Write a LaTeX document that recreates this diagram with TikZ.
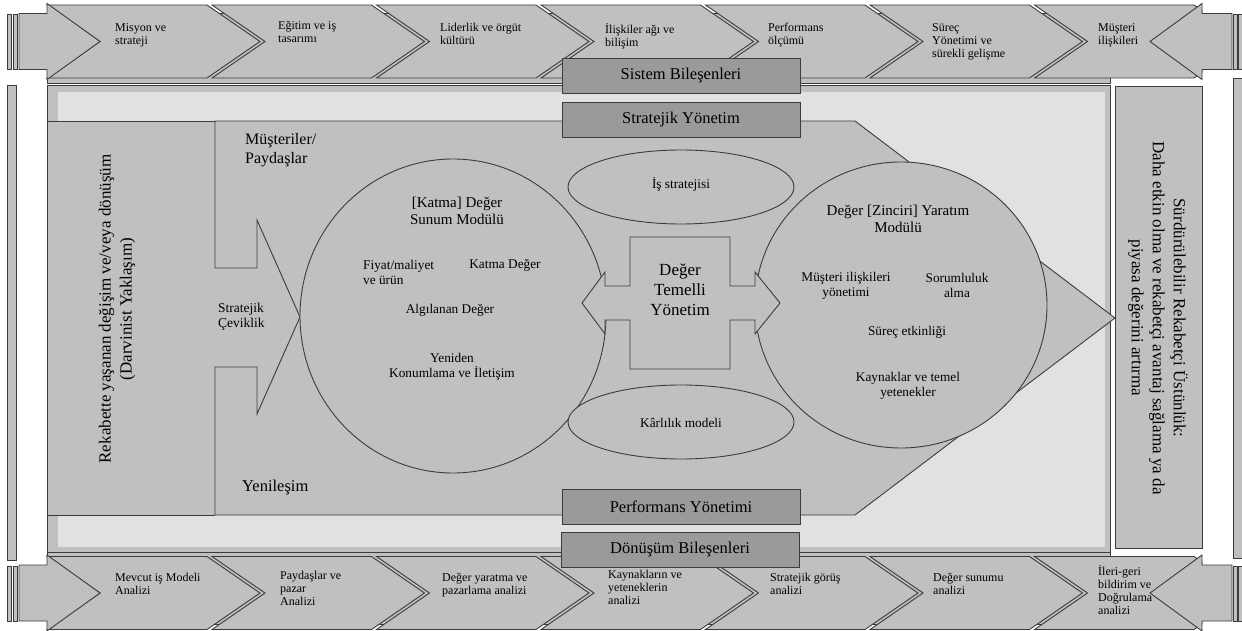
\documentclass[tikz,border=0pt]{standalone}
\usepackage{fontspec}
\setmainfont{Liberation Serif}
\definecolor{gris}{HTML}{C0C0C0}
\definecolor{grisclair}{HTML}{E1E1E1}
\definecolor{grisfonce}{HTML}{9A9A9A}
\definecolor{trait}{HTML}{3C3C3C}

\begin{document}
\begin{tikzpicture}[x=1pt, y=-1pt, line join=miter,
    forme/.style={fill=gris, draw=trait, line width=0.9pt},
    titre/.style={forme, fill=grisfonce, minimum width=238pt, minimum height=35pt, inner sep=0pt, font=\fontsize{16.5}{19}\selectfont},
    petit/.style={align=left, anchor=north west, inner sep=0pt, font=\fontsize{12}{13}\selectfont, execute at begin node=\strut},
    moyen/.style={align=center, inner sep=0pt, font=\fontsize{13.3}{15}\selectfont},
    grand/.style={align=center, inner sep=0pt, font=\fontsize{15}{17}\selectfont},
    vertical/.style={align=center, inner sep=0pt, font=\fontsize{17}{21}\selectfont}]

    \useasboundingbox (0,0) rectangle (1242,631);

    % Fond des bandes et cadre central
    \draw[forme] (47,13) rectangle (1110,83);
    \draw[forme] (47,552) rectangle (1110,624);
    \draw[forme] (47,85) rectangle (1110,552);
    \fill[grisclair] (58,92) rectangle (1105,547);
    \draw[forme] (7,85) rectangle (16,560);
    \draw[forme] (1233,78) rectangle (1242,558);

    % Définition des chevrons (haut et bas)
    \foreach \m in {41.5,593} {
        \foreach \p [count=\i] in {260,424.5,589,753.5,918,1082.5} {
            \pgfmathsetmacro\g{\i==1 ? 47 : \p-212.5}
            \draw[forme] (\g,\m-36.5) -- (\p-53,\m-36.5) -- (\p,\m) -- (\p-53,\m+36.5) -- (\g,\m+36.5) -- (\g+53,\m) -- cycle;
        }
        \draw[forme] (1034.5,\m-36.5) -- (1194,\m-36.5) -- (1202,\m-31) -- (1202,\m+31) -- (1194,\m+36.5) -- (1034.5,\m+36.5) -- (1087.5,\m) -- cycle;
        \draw[forme] (19,\m-28) -- (47,\m-28) -- (47,\m-38) -- (100,\m) -- (47,\m+38) -- (47,\m+28) -- (19,\m+28) -- cycle;
        \draw[forme] (1232,\m-28) -- (1202,\m-28) -- (1202,\m-38) -- (1150,\m) -- (1202,\m+38) -- (1202,\m+28) -- (1232,\m+28) -- cycle;
        \foreach \b in {7,13,1233,1238}
            \draw[forme, line width=0.6pt] (\b,\m-27) rectangle (\b+4,\m+28);
    }

    \foreach \x/\y/\t [count=\i] in {115/23/{Misyon ve\\strateji}, 278/21/{Eğitim ve iş\\tasarımı},
        440/23/{Liderlik ve örgüt\\kültürü}, 605/23/{İlişkiler ağı ve\\bilişim}, 768/23/{Performans\\ölçümü},
        932/23/{Süreç\\Yönetimi ve\\sürekli gelişme}, 1098/23/{Müşteri\\ilişkileri}}
        \node[petit] (h\i) at (\x,\y) {\t};

    \foreach \x/\y/\t [count=\i] in {115/573/{Mevcut iş Modeli\\Analizi}, 280/571/{Paydaşlar ve\\pazar\\Analizi},
        442/573/{Değer yaratma ve\\pazarlama analizi}, 608/570/{Kaynakların ve\\yeteneklerin\\analizi},
        770/573/{Stratejik görüş\\analizi}, 933/573/{Değer sunumu\\analizi},
        1098/565/{İleri-geri\\bildirim ve\\Doğrulama\\analizi}}
        \node[petit] (b\i) at (\x,\y) {\t};

    % Bloc de gauche et grande flèche
    \draw[forme] (215,121) -- (47,121) -- (47,515) -- (215,515);
    \fill[gris] (215,268) -- (257,268) -- (257,220) -- (300,317) -- (257,414) -- (257,367) -- (215,367) -- cycle;
    \draw[forme] (215,121) -- (855,121) -- (1115,318) -- (855,515) -- (215,515) -- (215,367) -- (257,367)
        -- (257,414) -- (300,317) -- (257,220) -- (257,268) -- (215,268) -- cycle;
    \draw[forme] (1115,86) rectangle (1202,548);

    % Cercles et ellipses
    \draw[forme] (453,316) ellipse [x radius=153pt, y radius=157pt];
    \draw[forme] (901,305) ellipse [x radius=146pt, y radius=143pt];
    \draw[forme] (681,187) ellipse [x radius=113pt, y radius=37pt];
    \draw[forme] (681,422) ellipse [x radius=113pt, y radius=37pt];
    \draw[forme] (630,237) -- (730,237) -- (730,286) -- (755,286) -- (755,272) -- (780,303) -- (755,334) -- (755,320)
        -- (730,320) -- (730,369) -- (630,369) -- (630,320) -- (605,320) -- (605,334) -- (582,303) -- (605,272)
        -- (605,286) -- (630,286) -- cycle;

    % Titres
    \node[titre] (sistem) at (681,76) {Sistem Bileşenleri};
    \node[titre] (stratejik) at (681,120) {Stratejik Yönetim};
    \node[titre] (performans) at (681,507) {Performans Yönetimi};
    \node[titre] (donusum) at (680,550) {Dönüşüm Bileşenleri};

    % Textes
    \node[vertical, rotate=90] (rekabet) at (117,309) {Rekabette yaşanan değişim ve/veya dönüşüm\\(Darvinist Yaklaşım)};
    \node[vertical, rotate=-90] (surdur) at (1158,318) {Sürdürülebilir Rekabetçi Üstünlük:\\Daha etkin olma ve rekabetçi avantaj sağlama ya da\\piyasa değerini artırma};
    \node[grand, align=left, anchor=west, font=\fontsize{16}{19}\selectfont] (musteri) at (245,150) {Müşteriler/\\Paydaşlar};
    \node[grand, anchor=west, font=\fontsize{16.5}{19}\selectfont] (yeni) at (242,488) {Yenileşim};
    \node[moyen, align=left, anchor=west, font=\fontsize{13.5}{15}\selectfont] (ceviklik) at (218,317) {Stratejik\\Çeviklik};

    \node[grand] (sunum) at (457,211) {[Katma] Değer\\Sunum Modülü};
    \node[moyen, align=left, anchor=west] (fiyat) at (363,272) {Fiyat/maliyet\\ve ürün};
    \node[moyen] (katma) at (505,265) {Katma Değer};
    \node[moyen] (algi) at (450,310) {Algılanan Değer};
    \node[moyen] (konum) at (452,367) {Yeniden\\Konumlama ve İletişim};

    \node[grand] (yaratim) at (898,219) {Değer [Zinciri] Yaratım\\Modülü};
    \node[moyen] (iliski) at (846,286) {Müşteri ilişkileri\\yönetimi};
    \node[moyen] (sorum) at (957,285) {Sorumluluk\\alma};
    \node[moyen] (surec) at (907,332) {Süreç etkinliği};
    \node[moyen] (kaynak) at (908,386) {Kaynaklar ve temel\\yetenekler};

    \node[moyen] (is) at (681,184) {İş stratejisi};
    \node[moyen] (karlilik) at (681,423) {Kârlılık modeli};
    \node[vertical, font=\fontsize{17}{20}\selectfont] (temelli) at (680,290) {Değer\\Temelli\\Yönetim};

\end{tikzpicture}
\end{document}
